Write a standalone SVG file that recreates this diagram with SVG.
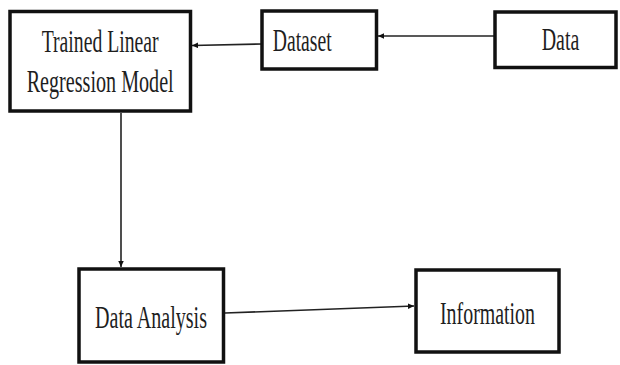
<svg xmlns="http://www.w3.org/2000/svg" width="620" height="365" viewBox="0 0 620 365">
  <style>
    .box { fill: #ffffff; stroke: #111111; stroke-width: 3.5; }
    .lbl { font-family: "Liberation Serif", "Times New Roman", serif; font-size: 31px; fill: #1e1e1e; }
    .conn { fill: none; stroke: #222222; stroke-width: 1.6; marker-end: url(#arrow); }
  </style>
  <defs>
    <marker id="arrow" markerUnits="userSpaceOnUse" markerWidth="7" markerHeight="6" refX="6" refY="2.75" orient="auto">
      <path d="M0,0 L6,2.75 L0,5.5 z" fill="#111111"/>
    </marker>
  </defs>
  <rect width="620" height="365" fill="#ffffff"/>

  <g id="connectors">
    <line class="conn" x1="495" y1="36" x2="378" y2="36"/>
    <line class="conn" x1="262" y1="44" x2="192" y2="45.5"/>
    <line class="conn" x1="121" y1="113" x2="121" y2="267"/>
    <line class="conn" x1="225" y1="313" x2="414" y2="306"/>
  </g>

  <g id="trained-model">
    <rect class="box" x="10" y="11.5" width="180.5" height="99.5"/>
    <text class="lbl" x="41.7" y="52" textLength="117" lengthAdjust="spacingAndGlyphs">Trained Linear</text>
    <text class="lbl" x="26.7" y="92" textLength="147" lengthAdjust="spacingAndGlyphs">Regression Model</text>
  </g>

  <g id="dataset">
    <rect class="box" x="262" y="11" width="114.5" height="58"/>
    <text class="lbl" x="272.7" y="51" textLength="59" lengthAdjust="spacingAndGlyphs">Dataset</text>
  </g>

  <g id="data">
    <rect class="box" x="495" y="12" width="121" height="55.5"/>
    <text class="lbl" x="541.7" y="50" textLength="37.6" lengthAdjust="spacingAndGlyphs">Data</text>
  </g>

  <g id="data-analysis">
    <rect class="box" x="79" y="269" width="144.5" height="93"/>
    <text class="lbl" x="95" y="328" textLength="112" lengthAdjust="spacingAndGlyphs">Data Analysis</text>
  </g>

  <g id="information">
    <rect class="box" x="416" y="270" width="143" height="82"/>
    <text class="lbl" x="440" y="324" textLength="95" lengthAdjust="spacingAndGlyphs">Information</text>
  </g>
</svg>
